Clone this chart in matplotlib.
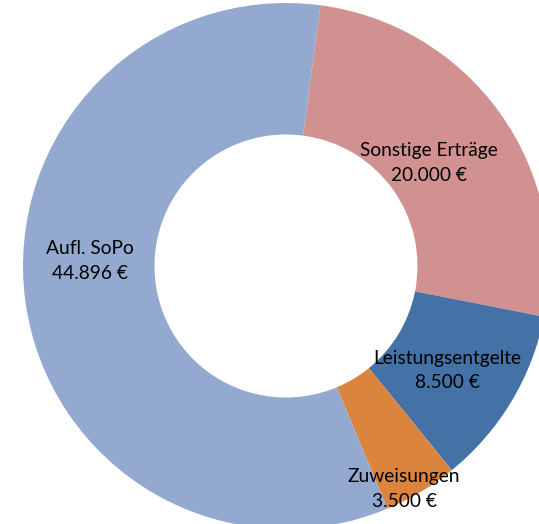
import numpy as np
import matplotlib.pyplot as plt

# Donut data
labels = ['Sonstige Erträge', 'Leistungsentgelte', 'Zuweisungen', 'Aufl. SoPo']
values = [20000, 8500, 3500, 44896]
value_text = ['20.000 €', '8.500 €', '3.500 €', '44.896 €']
colors = ['#D09190', '#4471A6', '#DA843E', '#94A9CF']

# label distance from centre (fraction of outer radius) and angle nudge in degrees
label_r = [0.67, 0.73, 0.96, 0.745]
label_shift = [0, -2, -3, -9]

W, H = 539, 524
cx, cy = 286, H - 266
R = 263

fig = plt.figure(figsize=(W / 100, H / 100), dpi=100)
ax = fig.add_axes([0, 0, 1, 1])

wedges, _ = ax.pie(values, colors=colors, startangle=82.5, counterclock=False,
                   center=(cx, cy), radius=R,
                   wedgeprops=dict(width=R * 0.5, linewidth=0))

# data labels, placed along each wedge's mid angle
for w, lab, txt, r, sh in zip(wedges, labels, value_text, label_r, label_shift):
    ang = np.deg2rad((w.theta1 + w.theta2) / 2 + sh)
    x = cx + r * R * np.cos(ang)
    y = cy + r * R * np.sin(ang)
    ax.text(x, y, lab + '\n' + txt, ha='center', va='center',
            fontsize=13.8, family='Lato', linespacing=1.55, color='black')

ax.set_xlim(0, W)
ax.set_ylim(0, H)
ax.set_aspect('equal')
ax.axis('off')

fig.savefig('out.png', dpi=100)
